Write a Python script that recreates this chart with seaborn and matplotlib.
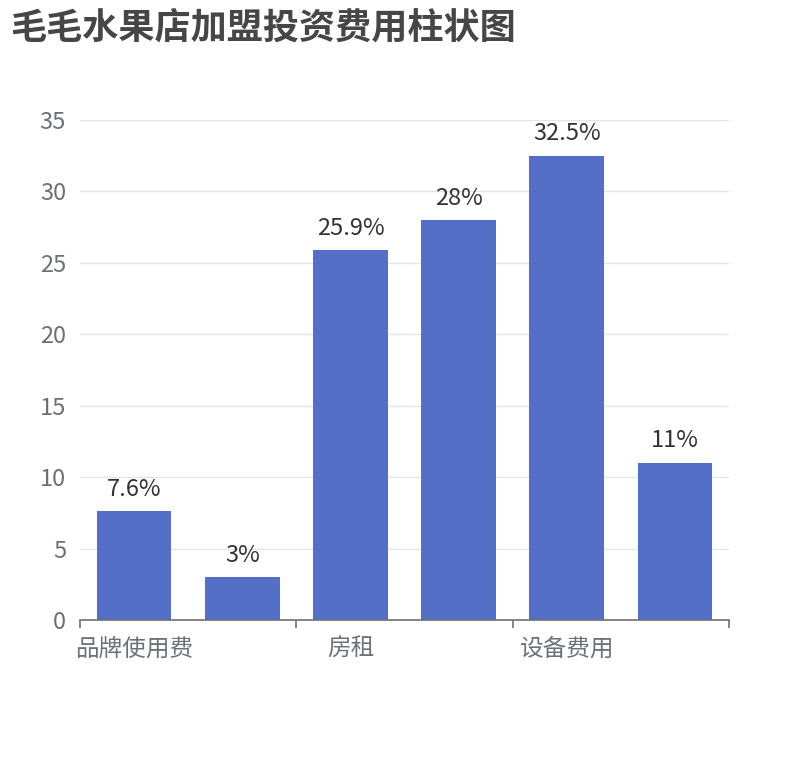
import matplotlib
matplotlib.use("Agg")
import matplotlib.pyplot as plt
import seaborn as sns
import pandas as pd

# 数据
categories = ["品牌使用费", "加盟费", "房租", "装修费", "设备费用", "其他费用"]
values = [7.6, 3, 25.9, 28, 32.5, 11]
value_labels = ["7.6%", "3%", "25.9%", "28%", "32.5%", "11%"]
shown_labels = ["品牌使用费", "房租", "设备费用"]
y_ticks = [0, 5, 10, 15, 20, 25, 30, 35]

sns.set_style("white")
plt.rcParams['font.family'] = ['Noto Sans CJK SC', 'DejaVu Sans']

df = pd.DataFrame({"类别": categories, "值": values})

fig = plt.figure(figsize=(8.1, 7.6), dpi=100)
ax = fig.add_axes([80 / 810, 1 - 620 / 760, 649 / 810, 500 / 760])

sns.barplot(data=df, x="类别", y="值", color="#5470c6", saturation=1,
            width=0.69, ax=ax, order=categories, linewidth=0)

ax.set_ylim(0, 35)
ax.set_xlim(-0.5, len(categories) - 0.5)
ax.set_yticks(y_ticks)
ax.yaxis.grid(True, color="#e0e6f1", linewidth=1)
ax.set_axisbelow(True)
ax.tick_params(axis="y", left=False, length=0, pad=10, labelsize=17,
               labelcolor="#6e7079")

# x轴: 刻度在类别边界, 标签隔一个显示
ax.set_xticks([-0.5, 1.5, 3.5, 5.5])
ax.set_xticklabels([])
ax.tick_params(axis="x", which="major", bottom=True, length=6, width=1.2,
               color="#6e7079", direction="out")
ax.set_xticks([0, 2, 4], minor=True)
ax.set_xticklabels(shown_labels, minor=True)
ax.tick_params(axis="x", which="minor", bottom=True, length=0, pad=13,
               labelsize=17, labelcolor="#6e7079")
ax.set_xlabel("")
ax.set_ylabel("")

for s in ["top", "right", "left"]:
    ax.spines[s].set_visible(False)
ax.spines["bottom"].set_color("#6e7079")
ax.spines["bottom"].set_linewidth(1.2)

# 柱顶标签
for i, (v, lab) in enumerate(zip(values, value_labels)):
    ax.annotate(lab, (i, v), xytext=(0, 7.5), textcoords="offset points",
                ha="center", va="bottom", fontsize=17, color="#333333")

fig.text(10 / 810, 1 - 28 / 760, "毛毛水果店加盟投资费用柱状图", fontsize=26,
         fontweight="bold", color="#464646", ha="left", va="center")

fig.savefig("out.png", dpi=100)
